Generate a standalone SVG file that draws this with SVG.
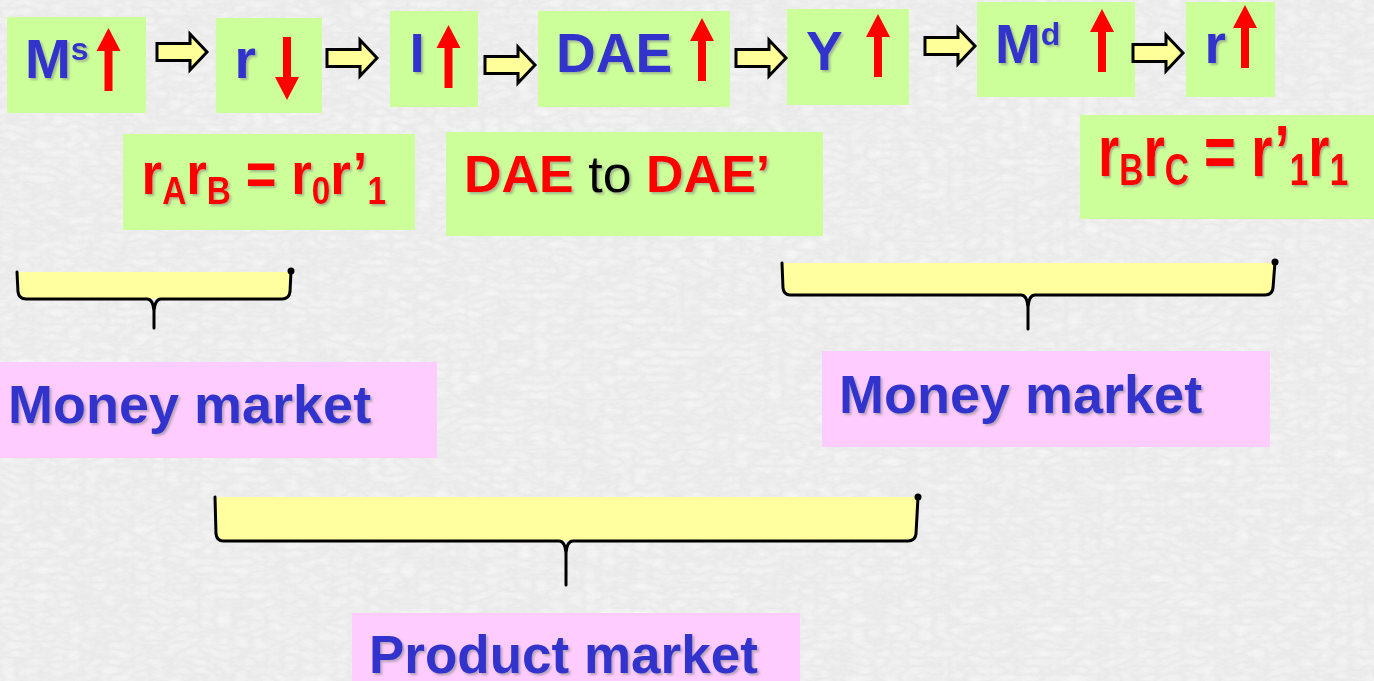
<svg xmlns="http://www.w3.org/2000/svg" xmlns:xlink="http://www.w3.org/1999/xlink" width="1374" height="681" viewBox="0 0 1374 681">
<style>
.bg{fill:#E9E9E9}
.green{fill:#CCFF99}
.pink{fill:#FFCCFF}
.blue{font-family:"Liberation Sans",Arial,sans-serif;font-weight:bold;fill:#3333CC;filter:url(#sh)}
.red{font-family:"Liberation Sans",Arial,sans-serif;font-weight:bold;fill:#FF0000;filter:url(#sh)}
.blk{font-family:"Liberation Sans",Arial,sans-serif;font-weight:normal;fill:#000000;filter:url(#sh)}
.uparr{fill:#FF0000}
.blockarr{fill:#FFFF99;stroke:#000;stroke-width:3;stroke-linejoin:miter}
.bracefill{fill:#FFFFA0;stroke:none}
.brace{fill:none;stroke:#000;stroke-width:3;stroke-linejoin:round;stroke-linecap:round}
</style>
<defs>
<filter id="sh" x="-10%" y="-10%" width="130%" height="140%">
<feDropShadow dx="2" dy="2" stdDeviation="1" flood-color="#808080" flood-opacity="0.55"/>
</filter>
<filter id="tex" x="0" y="0" width="100%" height="100%">
<feTurbulence type="turbulence" baseFrequency="0.06 0.12" numOctaves="3" seed="11"/>
<feColorMatrix type="matrix" values="0 0 0 0 1  0 0 0 0 1  0 0 0 0 1  1.2 0 0 0 -0.05"/>
</filter>
<path id="ua" d="M0,0 L12,23 H4 V63 H-4 V23 H-12 Z"/>
<path id="ba" d="M0,-8.5 H33 V-18 L50,0 L33,18 V8.5 H0 Z"/>
</defs>
<rect class="bg" x="0" y="0" width="1374" height="681"/>
<rect x="0" y="0" width="1374" height="681" fill="#fff" opacity="0.6" filter="url(#tex)"/>

<g id="node-ms">
<rect class="green" x="7" y="17" width="139" height="96"/>
<text class="blue" x="25" y="78" font-size="55">M<tspan font-size="32" dy="-18">s</tspan></text>
<use xlink:href="#ua" class="uparr" transform="translate(108.5,28)"/>
</g>
<g id="node-r1">
<rect class="green" x="216" y="18" width="106" height="95"/>
<text class="blue" x="234.5" y="78" font-size="55">r</text>
<use xlink:href="#ua" class="uparr" transform="translate(287,100) rotate(180)"/>
</g>
<g id="node-i">
<rect class="green" x="390" y="11" width="88" height="96"/>
<text class="blue" x="409.5" y="72" font-size="55">I</text>
<use xlink:href="#ua" class="uparr" transform="translate(448.5,25)"/>
</g>
<g id="node-dae">
<rect class="green" x="538" y="11" width="192" height="96"/>
<text class="blue" x="556" y="72" font-size="55">DAE</text>
<use xlink:href="#ua" class="uparr" transform="translate(702,18)"/>
</g>
<g id="node-y">
<rect class="green" x="787" y="9" width="122" height="96"/>
<text class="blue" x="806" y="70" font-size="55">Y</text>
<use xlink:href="#ua" class="uparr" transform="translate(878,14)"/>
</g>
<g id="node-md">
<rect class="green" x="977" y="2" width="158" height="95"/>
<text class="blue" x="995" y="63" font-size="55">M<tspan font-size="32" dy="-18">d</tspan></text>
<use xlink:href="#ua" class="uparr" transform="translate(1102,9)"/>
</g>
<g id="node-r2">
<rect class="green" x="1186" y="2" width="89" height="95"/>
<text class="blue" x="1204.5" y="63" font-size="55">r</text>
<use xlink:href="#ua" class="uparr" transform="translate(1245,5)"/>
</g>

<g id="connectors">
<use xlink:href="#ba" class="blockarr" transform="translate(157,52)"/>
<use xlink:href="#ba" class="blockarr" transform="translate(327,58)"/>
<use xlink:href="#ba" class="blockarr" transform="translate(485,65)"/>
<use xlink:href="#ba" class="blockarr" transform="translate(736,58)"/>
<use xlink:href="#ba" class="blockarr" transform="translate(925,46)"/>
<use xlink:href="#ba" class="blockarr" transform="translate(1133,53)"/>
</g>

<g id="label-rarb">
<rect class="green" x="123" y="134" width="292" height="96"/>
<text class="red" font-size="60" transform="translate(141.6,194) scale(0.88,1)">r<tspan font-size="38" dy="10">A</tspan><tspan dy="-10">r</tspan><tspan font-size="38" dy="10">B</tspan><tspan dy="-10"> = r</tspan><tspan font-size="38" dy="10">0</tspan><tspan dy="-10">r’</tspan><tspan font-size="38" dy="10">1</tspan></text>
</g>
<g id="label-dae">
<rect class="green" x="446" y="132" width="377" height="104"/>
<text font-size="52" x="464" y="192"><tspan class="red">DAE</tspan><tspan class="blk"> to </tspan><tspan class="red">DAE’</tspan></text>
</g>
<g id="label-rbrc">
<rect class="green" x="1080" y="115" width="294" height="104"/>
<text class="red" font-size="72" transform="translate(1098,176) scale(0.76,1)">r<tspan font-size="44" dy="9">B</tspan><tspan dy="-9">r</tspan><tspan font-size="44" dy="9">C</tspan><tspan dy="-9"> = r’</tspan><tspan font-size="44" dy="9">1</tspan><tspan dy="-9">r</tspan><tspan font-size="44" dy="9">1</tspan></text>
</g>

<g id="brace-left">
<path class="bracefill" d="M17,272 H291 L290,292 Q289,299 282,299 H25 Q19,299 18,292 Z"/>
<path class="brace" d="M291,271 L290,292 Q289,299 282,299 L161,299 Q155,299 154,311 L154,328 L154,311 Q153,299 147,299 L26,299 Q19,299 18,292 L17,272"/>
<circle cx="291" cy="271" r="3.5" fill="#000"/>
</g>
<g id="brace-right">
<path class="bracefill" d="M782,263 H1274 L1273,288 Q1272,295 1265,295 H790 Q784,295 783,288 Z"/>
<path class="brace" d="M1275,262 L1273,288 Q1272,295 1265,295 L1035,295 Q1029,295 1028,307 L1028,329 L1028,307 Q1027,295 1021,295 L790,295 Q784,295 783,288 L782,263"/>
<circle cx="1275" cy="262" r="3.5" fill="#000"/>
</g>
<g id="brace-product">
<path class="bracefill" d="M215,497 H917 L916,534 Q915,541 908,541 H223 Q217,541 216,534 Z"/>
<path class="brace" d="M918,497 L916,534 Q915,541 908,541 L573,541 Q567,541 566,553 L566,585 L566,553 Q565,541 559,541 L223,541 Q217,541 216,534 L215,497"/>
<circle cx="918" cy="497" r="3.5" fill="#000"/>
</g>

<g id="money-left">
<rect class="pink" x="0" y="362" width="437" height="96"/>
<text class="blue" x="8" y="423" font-size="54">Money market</text>
</g>
<g id="money-right">
<rect class="pink" x="822" y="351" width="448" height="96"/>
<text class="blue" x="839" y="413" font-size="54">Money market</text>
</g>
<g id="product">
<rect class="pink" x="352" y="613" width="448" height="70"/>
<text class="blue" x="369" y="673" font-size="53">Product market</text>
</g>
</svg>
